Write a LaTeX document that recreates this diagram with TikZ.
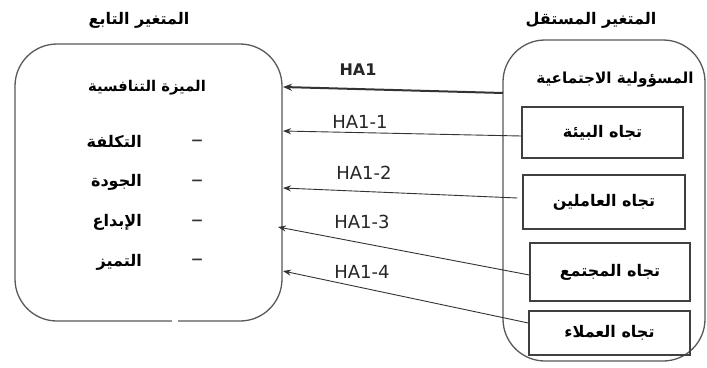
\documentclass[tikz,border=0pt]{standalone}
\usepackage{fontspec}
\setmainfont{DejaVu Sans}
\newfontfamily\arabicfont[Script=Arabic]{DejaVu Sans}
\TeXXeTstate=1
\usetikzlibrary{arrows.meta}
\newcommand{\ar}[1]{{\arabicfont\bfseries\beginR #1\endR}}
\begin{document}
\begin{tikzpicture}[x=1pt,y=-1pt,
  outerbox/.style={draw=black!65,line width=1.3pt,rounded corners=42pt,inner sep=0pt},
  innerbox/.style={draw=black!75,line width=1.3pt,inner sep=0pt,font=\fontsize{16}{18}\selectfont},
  ttl/.style={font=\fontsize{16}{18}\selectfont,inner sep=0pt},
  item/.style={font=\fontsize{16}{18}\selectfont,inner sep=0pt},
  dashmark/.style={font=\fontsize{24}{26}\selectfont,inner sep=0pt,text=black!80,anchor=base},
  hlab/.style={font=\fontsize{18}{20}\selectfont,inner sep=0pt,text=black!85},
  arr/.style={-{Stealth[length=8pt,width=6pt]},line width=0.9pt,draw=black!80},
]
\useasboundingbox (0,0) rectangle (707,367);
\fill[white] (0,0) rectangle (707,367);
% outer boxes
\node[outerbox,minimum width=267pt,minimum height=277pt] (L) at (148.5,182.5) {};
\fill[white] (172,318) rectangle (178,324);
\node[outerbox,minimum width=202pt,minimum height=321pt] (R) at (604,200.5) {};
% titles
\node[ttl] (tl) at (139,20) {\ar{المتغير التابع}};
\node[ttl] (tr) at (591,20) {\ar{المتغير المستقل}};
% left content
\node[ttl,font=\fontsize{14.8}{17}\selectfont] (adv) at (147,88) {\ar{الميزة التنافسية}};
\node[item,anchor=east] (i1) at (142,141) {\ar{التكلفة}};
\node[item,anchor=east] (i2) at (142,182) {\ar{الجودة}};
\node[item,anchor=east] (i3) at (142,222) {\ar{الإبداع}};
\node[item,anchor=east] (i4) at (142,262) {\ar{التميز}};
\node[dashmark] (d1) at (197,147) {–};
\node[dashmark] (d2) at (197,187) {–};
\node[dashmark] (d3) at (197,227) {–};
\node[dashmark] (d4) at (197,266) {–};
% right content
\node[ttl,font=\fontsize{15.2}{17}\selectfont] (csr) at (615,80) {\ar{المسؤولية الاجتماعية}};
\node[innerbox,minimum width=161pt,minimum height=51pt] (b1) at (602.5,132.5) {\ar{تجاه البيئة}};
\node[innerbox,minimum width=162pt,minimum height=54pt] (b2) at (604,202) {\ar{تجاه العاملين}};
\node[innerbox,minimum width=160pt,minimum height=58pt] (b3) at (610,272) {\ar{تجاه المجتمع}};
\node[innerbox,minimum width=161pt,minimum height=44pt] (b4) at (609.5,333) {\raisebox{-7pt}{\ar{تجاه العملاء}}};
% target points on the left box
\coordinate (t0) at (283,87);
\coordinate (t1) at (283,131);
\coordinate (t2) at (283,188);
\coordinate (t3) at (278,227);
\coordinate (t4) at (283,271);
\coordinate (s0) at (503,93);
% connectors
\draw[arr,line width=2pt,-{Stealth[length=9pt,width=7pt]}] (s0) -- (t0);
\draw[arr] ([yshift=-3.5pt]b1.west) -- (t1);
\draw[arr] ([xshift=-5pt,yshift=4pt]b2.west) -- (t2);
\draw[arr] ([yshift=-3pt]b3.west) -- (t3);
\draw[arr] ([yshift=10pt]b4.west) -- (t4);
% labels
\node[hlab,font=\fontsize{16}{18}\selectfont\bfseries] (h0) at (358,70) {HA1};
\node[hlab] (h1) at (360,122) {HA1-1};
\node[hlab] (h2) at (364,173) {HA1-2};
\node[hlab] (h3) at (362,222) {HA1-3};
\node[hlab] (h4) at (362,272) {HA1-4};
\end{tikzpicture}
\end{document}
